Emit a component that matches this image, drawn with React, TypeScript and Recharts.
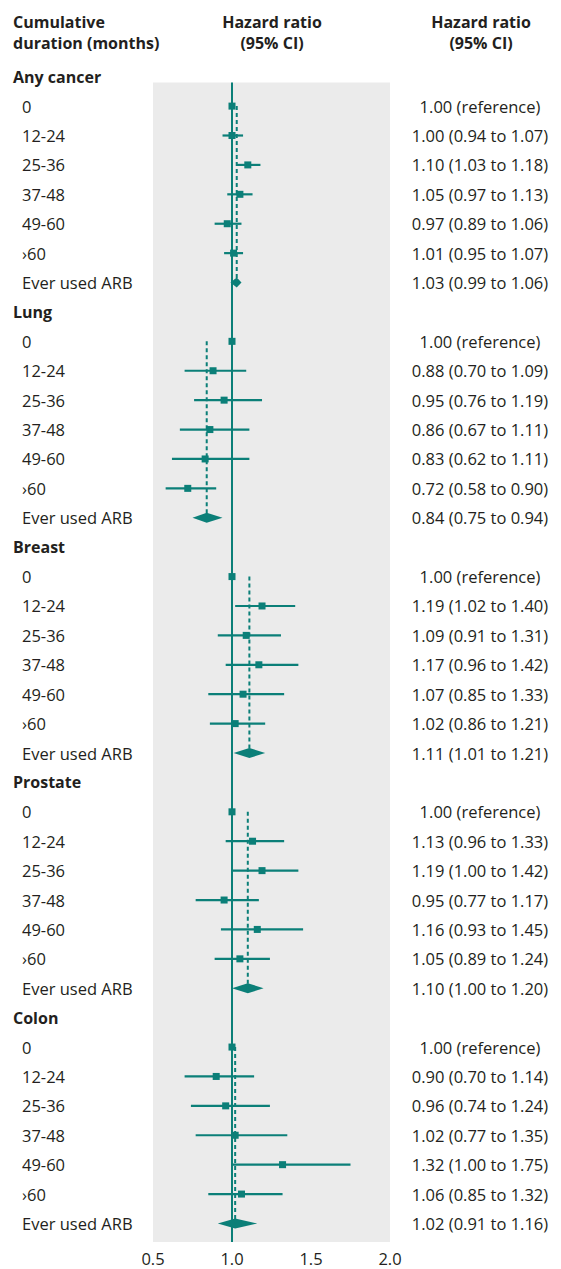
import {
  Area,
  ComposedChart,
  ErrorBar,
  ReferenceArea,
  ReferenceLine,
  Scatter,
  XAxis,
  YAxis,
} from "recharts";

const groups = ["Any cancer", "Lung", "Breast", "Prostate", "Colon"];
const durations = ["0", "12-24", "25-36", "37-48", "49-60", "›60", "Ever used ARB"];

// hazard ratio and 95% CI per group, same order as durations (first row is the reference)
const hazard = [
  [1.0, 1.0, 1.1, 1.05, 0.97, 1.01, 1.03],
  [1.0, 0.88, 0.95, 0.86, 0.83, 0.72, 0.84],
  [1.0, 1.19, 1.09, 1.17, 1.07, 1.02, 1.11],
  [1.0, 1.13, 1.19, 0.95, 1.16, 1.05, 1.1],
  [1.0, 0.9, 0.96, 1.02, 1.32, 1.06, 1.02],
];
const lower = [
  [null, 0.94, 1.03, 0.97, 0.89, 0.95, 0.99],
  [null, 0.7, 0.76, 0.67, 0.62, 0.58, 0.75],
  [null, 1.02, 0.91, 0.96, 0.85, 0.86, 1.01],
  [null, 0.96, 1.0, 0.77, 0.93, 0.89, 1.0],
  [null, 0.7, 0.74, 0.77, 1.0, 0.85, 0.91],
];
const upper = [
  [null, 1.07, 1.18, 1.13, 1.06, 1.07, 1.06],
  [null, 1.09, 1.19, 1.11, 1.11, 0.9, 0.94],
  [null, 1.4, 1.31, 1.42, 1.33, 1.21, 1.21],
  [null, 1.33, 1.42, 1.17, 1.45, 1.24, 1.2],
  [null, 1.14, 1.24, 1.35, 1.75, 1.32, 1.16],
];
const xTicks = [0.5, 1.0, 1.5, 2.0];

const teal = "#0b7f78";
const ink = "#231f20";
const font = "'Open Sans', sans-serif";
const textSize = 16.5;
const perGroup = durations.length + 1;
const lastRow = groups.length * perGroup - 1;
const panelTop = 0.2;
const panelBottom = lastRow + 0.63;
const diamondHalf = 0.17;

type Pt = { x: number; y: number; err: number[] };

const leftLabels: Record<number, { text: string; bold: boolean }> = {};
const rightLabels: Record<number, string> = {};
const points: Pt[] = [];
const diamonds: { x: number; band: number[] }[][] = [];
const dashes: { x: number; from: number; to: number }[] = [];

groups.forEach((g, gi) => {
  const base = gi * perGroup;
  leftLabels[base] = { text: g, bold: true };
  durations.forEach((d, j) => {
    const row = base + 1 + j;
    const h = hazard[gi][j];
    const lo = lower[gi][j];
    const hi = upper[gi][j];
    leftLabels[row] = { text: d, bold: false };
    rightLabels[row] =
      lo == null || hi == null
        ? `${h.toFixed(2)} (reference)`
        : `${h.toFixed(2)} (${lo.toFixed(2)} to ${hi.toFixed(2)})`;
    if (j < durations.length - 1) {
      points.push({ x: h, y: row, err: [lo == null ? 0 : h - lo, hi == null ? 0 : hi - h] });
    } else if (lo != null && hi != null) {
      diamonds.push([
        { x: lo, band: [row, row] },
        { x: h, band: [row - diamondHalf, row + diamondHalf] },
        { x: hi, band: [row, row] },
      ]);
      dashes.push({ x: h, from: base + 1, to: row });
    }
  });
});

const leftTicks = Object.keys(leftLabels).map(Number);
const rightTicks = Object.keys(rightLabels).map(Number);
const yDomain = [-0.5, panelBottom];

const Square = (p: any) => (
  <rect x={p.cx - 3.5} y={p.cy - 3.5} width={7} height={7} fill={teal} />
);

const LeftTick = (p: any) => {
  const l = leftLabels[p.payload.value];
  if (!l) return null;
  return (
    <text
      x={l.bold ? 13 : 22}
      y={p.y}
      dominantBaseline="central"
      fontFamily={font}
      fontSize={l.bold ? 16 : textSize}
      fontWeight={l.bold ? 700 : 400}
      fill={ink}
    >
      {l.text}
    </text>
  );
};

const RightTick = (p: any) => (
  <text
    x={480}
    y={p.y}
    textAnchor="middle"
    dominantBaseline="central"
    fontFamily={font}
    fontSize={textSize}
    fill={ink}
  >
    {rightLabels[p.payload.value]}
  </text>
);

const head = {
  position: "absolute" as const,
  top: 12,
  fontFamily: font,
  fontSize: 16,
  fontWeight: 700,
  lineHeight: "21px",
  color: ink,
};

export default function App() {
  return (
    <div style={{ position: "absolute", left: 0, top: 0, width: 561, height: 1269, background: "#fff" }}>
      <div style={{ ...head, left: 13 }}>
        Cumulative
        <br />
        duration (months)
      </div>
      <div style={{ ...head, left: 172, width: 200, textAlign: "center" }}>
        Hazard ratio
        <br />
        (95% CI)
      </div>
      <div style={{ ...head, left: 381, width: 200, textAlign: "center" }}>
        Hazard ratio
        <br />
        (95% CI)
      </div>
      <ComposedChart width={561} height={1269} margin={{ top: 62, right: 0, bottom: 0, left: 0 }}>
        <XAxis
          type="number"
          dataKey="x"
          domain={[0.5, 2]}
          ticks={xTicks}
          interval={0}
          allowDataOverflow
          tickFormatter={(v: number) => v.toFixed(1)}
          axisLine={false}
          tickLine={false}
          tickMargin={5}
          height={27}
          tick={{ fill: ink, fontSize: textSize, fontFamily: font }}
        />
        <YAxis
          yAxisId="l"
          type="number"
          dataKey="y"
          domain={yDomain}
          reversed
          allowDataOverflow
          ticks={leftTicks}
          interval={0}
          width={153}
          axisLine={false}
          tickLine={false}
          tick={LeftTick}
        />
        <YAxis
          yAxisId="r"
          orientation="right"
          type="number"
          dataKey="y"
          domain={yDomain}
          reversed
          allowDataOverflow
          ticks={rightTicks}
          interval={0}
          width={171}
          axisLine={false}
          tickLine={false}
          tick={RightTick}
        />
        <ReferenceArea
          yAxisId="l"
          x1={0.5}
          x2={2}
          y1={panelTop}
          y2={panelBottom}
          fill="#ebebeb"
          fillOpacity={1}
          stroke="none"
        />
        <ReferenceLine
          yAxisId="l"
          segment={[
            { x: 1, y: panelTop },
            { x: 1, y: panelBottom },
          ]}
          stroke={teal}
          strokeWidth={2}
        />
        {dashes.map((d, i) => (
          <ReferenceLine
            key={`dash-${i}`}
            yAxisId="l"
            segment={[
              { x: d.x, y: d.from },
              { x: d.x, y: d.to },
            ]}
            stroke={teal}
            strokeWidth={2}
            strokeDasharray="4 3"
          />
        ))}
        <Scatter yAxisId="r" data={points} shape={Square} isAnimationActive={false}>
          <ErrorBar dataKey="err" direction="x" width={0} stroke={teal} strokeWidth={2.2} isAnimationActive={false} />
        </Scatter>
        {diamonds.map((d, i) => (
          <Area
            key={`diamond-${i}`}
            yAxisId="l"
            data={d}
            dataKey="band"
            type="linear"
            stroke="none"
            fill={teal}
            fillOpacity={1}
            dot={false}
            activeDot={false}
            isAnimationActive={false}
          />
        ))}
      </ComposedChart>
    </div>
  );
}
